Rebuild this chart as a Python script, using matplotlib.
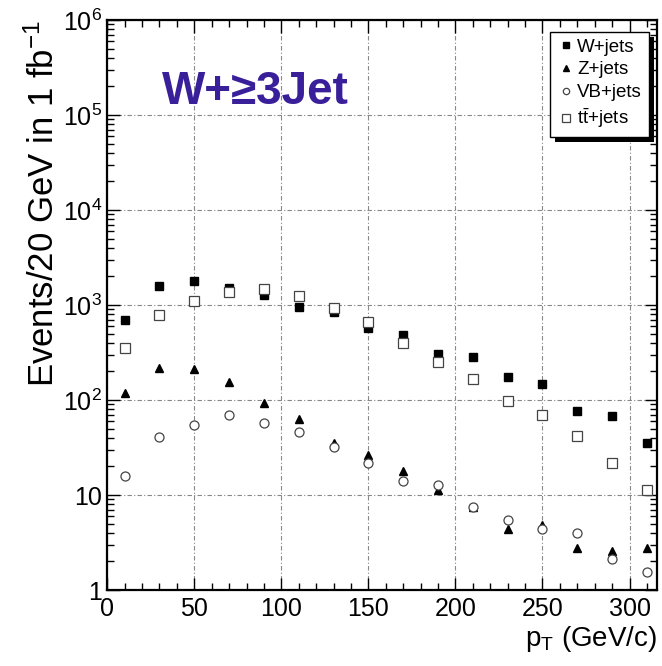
from matplotlib import pyplot as plt
from matplotlib.ticker import FixedLocator, MultipleLocator, LogLocator, NullFormatter
from matplotlib.patches import Rectangle
import numpy as np

plt.rcParams['font.family'] = ['Liberation Sans', 'DejaVu Sans']
plt.rcParams['mathtext.fontset'] = 'custom'
plt.rcParams['mathtext.rm'] = 'Liberation Sans'
plt.rcParams['mathtext.it'] = 'Liberation Sans:italic'

# bin centres (GeV/c)
pt = [10, 30, 50, 70, 90, 110, 130, 150, 170, 190, 210, 230, 250, 270, 290, 310]

# events / 20 GeV in 1 fb^-1
w_jets = [700, 1580, 1800, 1510, 1265, 945, 843, 570, 478, 302, 287, 173, 146, 77, 68, 35]
z_jets = [120, 219, 210, 155, 92, 63, 35, 26.5, 17.8, 11.3, 7.4, 4.4, 4.8, 2.8, 2.6, 2.75]
vb_jets = [16, 41, 55, 69, 58, 46, 32, 21.5, 13.9, 12.8, 7.4, 5.4, 4.4, 4.0, 2.1, 1.55]
tt_jets = [350, 790, 1110, 1370, 1490, 1235, 930, 660, 396, 252, 166, 97, 69, 42, 22, 11.3]

ytick_vals = [1, 10, 100, 1e3, 1e4, 1e5, 1e6]
ytick_labels = ['1', '10', '$10^{2}$', '$10^{3}$', '$10^{4}$', '$10^{5}$', '$10^{6}$']

fig = plt.figure(figsize=(6.62, 6.66), dpi=100)
ax = fig.add_axes([0.162, 0.114, 0.831, 0.856])

ax.plot(pt, w_jets, 's', color='black', markersize=6, label='W+jets')
ax.plot(pt, z_jets, '^', color='black', markersize=5.5, label='Z+jets')
ax.plot(pt, vb_jets, 'o', mfc='white', mec='#444444', mew=0.9, markersize=6.5, label='VB+jets')
ax.plot(pt, tt_jets, 's', mfc='white', mec='#444444', mew=0.9, markersize=7.5, label=r'$\mathrm{t\bar{t}}$+jets')

ax.set_yscale('log')
ax.set_ylim(1, 1e6)
ax.set_xlim(0, 316)

ax.xaxis.set_major_locator(MultipleLocator(50))
ax.xaxis.set_minor_locator(MultipleLocator(10))
ax.yaxis.set_major_locator(FixedLocator(ytick_vals))
ax.set_yticklabels(ytick_labels)
ax.yaxis.set_minor_locator(LogLocator(base=10, subs=np.arange(2, 10)))
ax.yaxis.set_minor_formatter(NullFormatter())

ax.tick_params(which='both', direction='in', top=True, right=True, labelsize=18, width=1)
ax.tick_params(which='major', length=9)
ax.tick_params(which='minor', length=5)
ax.tick_params(axis='x', pad=5)
for s in ax.spines.values():
    s.set_linewidth(1.6)

ax.grid(True, which='major', color='#888888', linestyle=(0, (4, 2, 1, 2)), linewidth=0.8)

ax.set_ylabel(r'Events/20 GeV in 1 fb$^{-1}$', fontsize=25, loc='top', labelpad=2)
ax.set_xlabel(r'p$_{\rm T}$ (GeV/c)', fontsize=20, loc='right', labelpad=2)

ax.text(0.1, 0.852, 'W+≥3Jet', transform=ax.transAxes, fontsize=33, fontweight='bold',
        color='#3a1f9a')

leg = ax.legend(loc='upper right', bbox_to_anchor=(0.984, 0.979), fontsize=13.5,
                fancybox=False, edgecolor='black', framealpha=1, borderaxespad=0,
                handletextpad=0.1, labelspacing=0.3, handlelength=1.0, borderpad=0.35,
                markerscale=0.7)
leg.get_frame().set_linewidth(1)

# thick ROOT-style shadow behind the legend box
fig.canvas.draw()
bb = leg.get_window_extent()
ax.add_patch(Rectangle((bb.x0 + 5, bb.y0 - 5), bb.width, bb.height, transform=None,
                       facecolor='black', edgecolor='none', zorder=4.9, clip_on=False))

fig.savefig('out.png', dpi=100)
